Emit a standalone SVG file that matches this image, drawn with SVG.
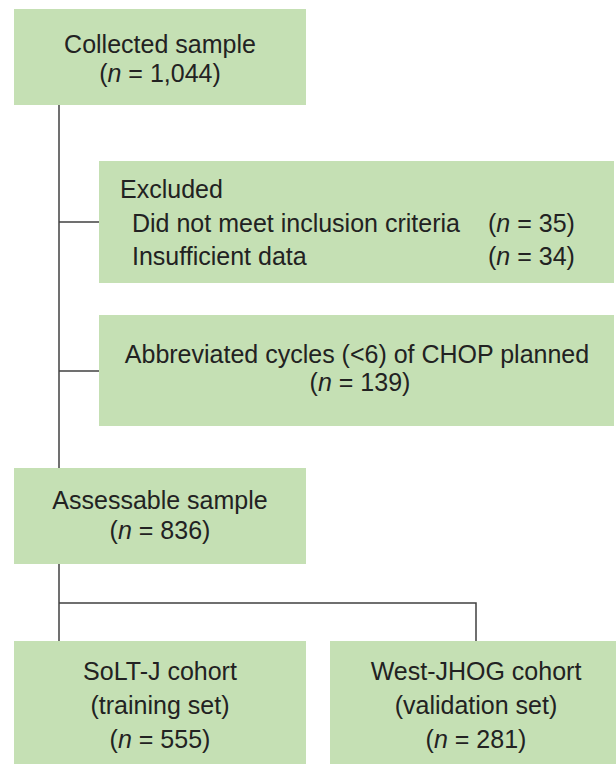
<svg xmlns="http://www.w3.org/2000/svg" width="616" height="764" viewBox="0 0 616 764">
<style>
.box{fill:#c5e0b4;}
.t{font-family:"Liberation Sans",Arial,sans-serif;font-size:25px;fill:#222222;}
.c{text-anchor:middle;}
.i{font-style:italic;}
.ln{stroke:#404040;stroke-width:1.5;fill:none;}
</style>
<rect width="616" height="764" fill="#ffffff"/>
<g id="connectors">
<path class="ln" d="M59,105 V641"/>
<path class="ln" d="M59,222 H99"/>
<path class="ln" d="M59,371 H99"/>
<path class="ln" d="M59,603 H476 V641"/>
</g>
<g id="collected">
<rect class="box" x="14" y="9" width="292" height="96"/>
<text class="t c" x="160" y="53">Collected sample</text>
<text class="t c" x="160" y="82">(<tspan class="i">n</tspan> = 1,044)</text>
</g>
<g id="excluded">
<rect class="box" x="99" y="161" width="515" height="122"/>
<text class="t" x="120" y="198">Excluded</text>
<text class="t" x="132" y="232">Did not meet inclusion criteria</text>
<text class="t" x="488" y="232">(<tspan class="i">n</tspan> = 35)</text>
<text class="t" x="132" y="265">Insufficient data</text>
<text class="t" x="488" y="265">(<tspan class="i">n</tspan> = 34)</text>
</g>
<g id="abbreviated">
<rect class="box" x="99" y="315" width="515" height="111"/>
<text class="t c" x="357" y="363">Abbreviated cycles (&lt;6) of CHOP planned</text>
<text class="t c" x="360" y="391">(<tspan class="i">n</tspan> = 139)</text>
</g>
<g id="assessable">
<rect class="box" x="14" y="468" width="292" height="96"/>
<text class="t c" x="160" y="509">Assessable sample</text>
<text class="t c" x="160" y="539">(<tspan class="i">n</tspan> = 836)</text>
</g>
<g id="soltj">
<rect class="box" x="14" y="641" width="292" height="130"/>
<text class="t c" x="160" y="680">SoLT-J cohort</text>
<text class="t c" x="160" y="714">(training set)</text>
<text class="t c" x="160" y="748">(<tspan class="i">n</tspan> = 555)</text>
</g>
<g id="westjhog">
<rect class="box" x="330" y="641" width="292" height="130"/>
<text class="t c" x="476" y="680">West-JHOG cohort</text>
<text class="t c" x="476" y="714">(validation set)</text>
<text class="t c" x="476" y="748">(<tspan class="i">n</tspan> = 281)</text>
</g>
</svg>
